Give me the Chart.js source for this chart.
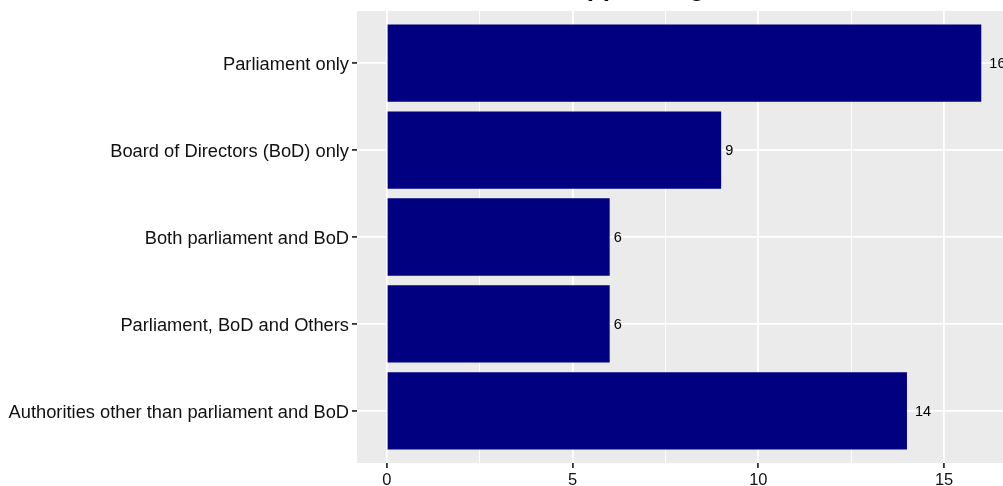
<!DOCTYPE html>
<html>
<head>
<meta charset="utf-8">
<script src="https://cdn.jsdelivr.net/npm/chart.js@4"></script>
<style>
  html, body { margin: 0; padding: 0; background: #fff; overflow: hidden; width: 1003px; height: 486px; }
  #wrap { position: relative; width: 1003px; height: 486px; overflow: hidden; }
  #chart { position: absolute; left: 0; top: -40px; }
</style>
</head>
<body>
<div id="wrap"><canvas id="chart" width="1040" height="580"></canvas></div>
<script>
// data
const categories = [
    "Parliament only",
    "Board of Directors (BoD) only",
    "Both parliament and BoD",
    "Parliament, BoD and Others",
    "Authorities other than parliament and BoD"
];
const counts = [16, 9, 6, 6, 14];
const xTicks = [0, 2.5, 5, 7.5, 10, 12.5, 15];
const titleText = "Appointing Bodies";

// panel background like ggplot grey
const panelBg = {
    id: "panelBg",
    beforeDraw(chart) {
        const a = chart.chartArea;
        const ctx = chart.ctx;
        ctx.save();
        ctx.fillStyle = "#EBEBEB";
        ctx.fillRect(a.left, a.top, a.right - a.left, a.bottom - a.top);
        ctx.restore();
    }
};

// count labels next to the bars, plus the (mostly cut off) title
const barLabels = {
    id: "barLabels",
    afterDatasetsDraw(chart) {
        const ctx = chart.ctx;
        const meta = chart.getDatasetMeta(0);
        ctx.save();
        ctx.font = "14.5px 'Liberation Sans', Arial, sans-serif";
        ctx.fillStyle = "#000";
        ctx.textAlign = "left";
        ctx.textBaseline = "middle";
        meta.data.forEach((bar, i) => {
            const txt = String(counts[i]);
            const w = ctx.measureText(txt).width;
            ctx.fillText(txt, bar.x + w * 0.5, bar.y + 1);
        });
        ctx.font = "bold 26px 'Liberation Sans', Arial, sans-serif";
        ctx.textBaseline = "alphabetic";
        ctx.fillText(titleText, 568, 36);
        ctx.restore();
    }
};

const ctx = document.getElementById("chart");

new Chart(ctx, {
    type: "bar",
    data: {
        datasets: [{
            data: categories.map((c, i) => ({ x: counts[i], y: i })),
            backgroundColor: "#000080",
            borderWidth: 0,
            categoryPercentage: 1,
            barPercentage: 0.89
        }]
    },
    options: {
        indexAxis: "y",
        responsive: false,
        animation: false,
        devicePixelRatio: 1,
        layout: { padding: { left: 0, top: 51, right: 29, bottom: 0 } },
        plugins: {
            legend: { display: false },
            tooltip: { enabled: false },
            title: { display: false }
        },
        scales: {
            x: {
                type: "linear",
                min: -0.8,
                max: 16.8,
                offset: false,
                afterBuildTicks: scale => { scale.ticks = xTicks.map(v => ({ value: v })); },
                afterFit: scale => { scale.height = 77; },
                border: { display: false },
                grid: {
                    offset: false,
                    color: "#FFFFFF",
                    lineWidth: c => (c.tick && c.tick.value % 5 === 0 ? 1.8 : 0.9),
                    tickColor: c => (c.tick && c.tick.value % 5 === 0 ? "#333333" : "rgba(0,0,0,0)"),
                    tickLength: 5
                },
                ticks: {
                    autoSkip: false,
                    maxRotation: 0,
                    padding: 3,
                    color: "#111111",
                    font: { family: "'Liberation Sans', Arial, sans-serif", size: 16.5 },
                    callback: v => (v % 5 === 0 ? String(v) : "")
                }
            },
            y: {
                type: "linear",
                min: -0.6,
                max: 4.6,
                reverse: true,
                offset: false,
                afterBuildTicks: scale => { scale.ticks = categories.map((c, i) => ({ value: i })); },
                afterFit: scale => { scale.width = 357; },
                border: { display: false },
                grid: {
                    offset: false,
                    color: "#FFFFFF",
                    lineWidth: 1.8,
                    tickColor: "#333333",
                    tickLength: 5
                },
                ticks: {
                    autoSkip: false,
                    padding: 3,
                    labelOffset: 2,
                    color: "#111111",
                    font: { family: "'Liberation Sans', Arial, sans-serif", size: 18.3 },
                    callback: v => categories[v]
                }
            }
        }
    },
    plugins: [panelBg, barLabels]
});
</script>
</body>
</html>
